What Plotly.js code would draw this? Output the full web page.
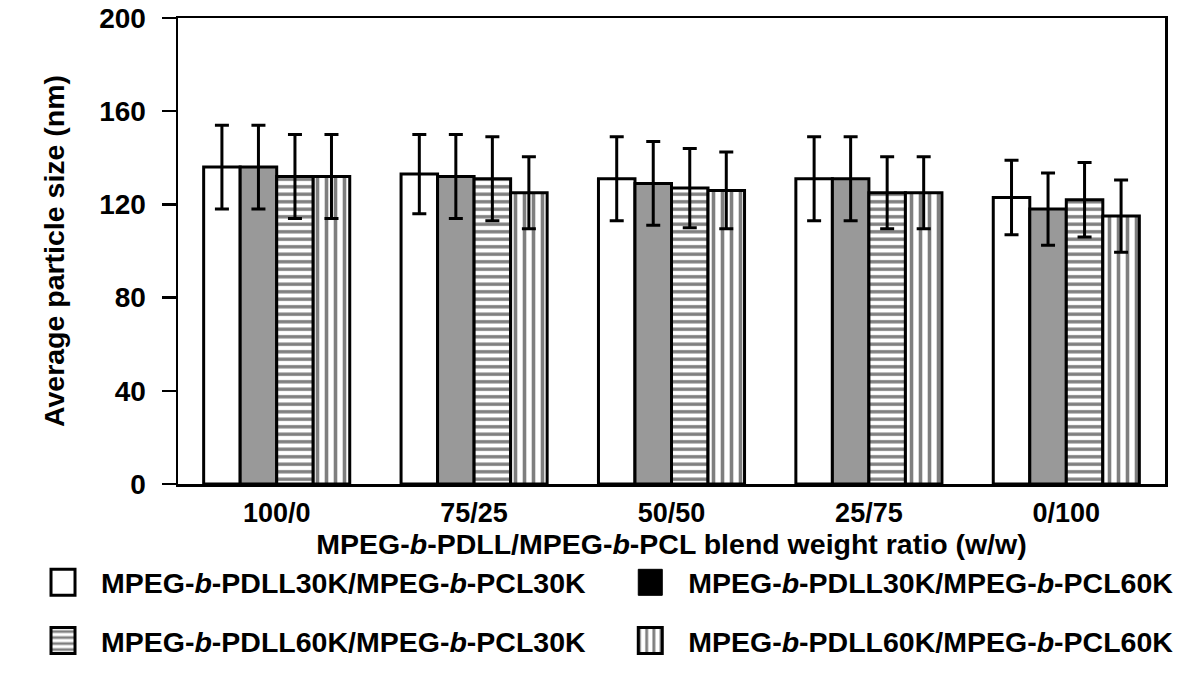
<!DOCTYPE html>
<html>
<head>
<meta charset="utf-8">
<script src="https://cdn.plot.ly/plotly-3.0.1.min.js"></script>
<style>
  body { margin: 0; background: #fff; }
  #chart { width: 1200px; height: 680px; }
</style>
</head>
<body>
<div id="chart"></div>
<script>
var ratios = ['100/0', '75/25', '50/50', '25/75', '0/100'];

var names = [
    'MPEG-<i>b</i>-PDLL30K/MPEG-<i>b</i>-PCL30K',
    'MPEG-<i>b</i>-PDLL30K/MPEG-<i>b</i>-PCL60K',
    'MPEG-<i>b</i>-PDLL60K/MPEG-<i>b</i>-PCL30K',
    'MPEG-<i>b</i>-PDLL60K/MPEG-<i>b</i>-PCL60K'
];

var size30k30k = [136, 133, 131, 131, 123];
var size30k60k = [136, 132, 129, 131, 118];
var size60k30k = [132, 131, 127, 125, 122];
var size60k60k = [132, 125, 126, 125, 115];

var err30k30k = [18, 17, 18, 18, 16];
var err30k60k = [18, 18, 18, 18, 15.5];
var err60k30k = [18, 18, 17, 15.5, 16];
var err60k60k = [18, 15.5, 16.5, 15.5, 15.5];

var fontFam = 'Liberation Sans, Arial, sans-serif';

function errBar(arr){
    return {type: 'data', array: arr, visible: true, color: '#000', thickness: 3, width: 7};
}

var outline = {color: '#000', width: 3};

var trace1 = {
    type: 'bar', x: ratios, y: size30k30k, name: names[0],
    error_y: errBar(err30k30k),
    marker: {color: '#fff', line: outline},
    legend: 'legend'
};
var trace2 = {
    type: 'bar', x: ratios, y: size30k60k, name: names[1],
    error_y: errBar(err30k60k),
    marker: {color: '#999999', line: outline},
    showlegend: false
};
var trace3 = {
    type: 'bar', x: ratios, y: size60k30k, name: names[2],
    error_y: errBar(err60k30k),
    marker: {color: '#fff', line: outline,
        pattern: {shape: '-', size: 7.5, solidity: 0.45, fgcolor: '#000', bgcolor: '#fff', fillmode: 'overlay'}},
    legend: 'legend3'
};
var trace4 = {
    type: 'bar', x: ratios, y: size60k60k, name: names[3],
    error_y: errBar(err60k60k),
    marker: {color: '#fff', line: outline,
        pattern: {shape: '|', size: 9, solidity: 0.4, fgcolor: '#000', bgcolor: '#fff', fillmode: 'overlay'}},
    legend: 'legend4'
};
// legend key for the grey series is drawn solid black in the original
var trace2key = {
    type: 'bar', x: [ratios[0]], y: [null], name: names[1],
    marker: {color: '#000', line: {color: '#000', width: 1}},
    xaxis: 'x2', yaxis: 'y2',
    legend: 'legend2'
};

var legFont = {family: fontFam, size: 28.5, color: '#000', weight: 'bold'};

function legendAt(xp, yp){
    return {
        orientation: 'h', x: xp, xanchor: 'left', y: yp, yanchor: 'middle',
        itemwidth: 66, font: legFont, bgcolor: 'rgba(0,0,0,0)'
    };
}

// legend rows/columns in paper units of the plot area
var col1 = -0.155, col2 = 0.44;
var row1 = -0.212, row2 = -0.337;

var layout = {
    width: 1200, height: 680,
    margin: {l: 178, r: 35, t: 18, b: 196},
    paper_bgcolor: '#fff', plot_bgcolor: '#fff',
    barmode: 'group', bargap: 0.26, bargroupgap: 0,
    font: {family: fontFam, color: '#000'},
    xaxis: {
        showline: true, linewidth: 2.5, linecolor: '#000', mirror: true,
        ticks: '', showgrid: false, ticklabelstandoff: 3,
        tickfont: {family: fontFam, size: 27, weight: 'bold'},
        title: {text: 'MPEG-<i>b</i>-PDLL/MPEG-<i>b</i>-PCL blend weight ratio (w/w)',
            font: {family: fontFam, size: 28.5, weight: 'bold'}, standoff: 4}
    },
    yaxis: {
        range: [0, 200], dtick: 40, tick0: 0,
        showline: true, linewidth: 2.5, linecolor: '#000', mirror: true,
        ticks: 'outside', ticklen: 14, tickwidth: 2.5, tickcolor: '#000',
        ticklabelstandoff: 10,
        showgrid: false, zeroline: false,
        tickfont: {family: fontFam, size: 28, weight: 'bold'},
        title: {text: 'Average particle size (nm)', standoff: 26,
            font: {family: fontFam, size: 28.5, weight: 'bold'}}
    },
    xaxis2: {overlaying: 'x', visible: false, anchor: 'y2'},
    yaxis2: {overlaying: 'y', visible: false, range: [0, 200], anchor: 'x2'},
    legend: legendAt(col1, row1),
    legend2: legendAt(col2, row1),
    legend3: legendAt(col1, row2),
    legend4: legendAt(col2, row2)
};

Plotly.newPlot('chart', [trace1, trace2, trace3, trace4, trace2key], layout,
    {displayModeBar: false, staticPlot: true}).then(function(gd){
    // bigger legend keys, as in the original figure
    gd.querySelectorAll('.legendpoints path').forEach(function(p){
        p.setAttribute('d', 'M12,13H-12V-13H12Z');
    });
});
</script>
</body>
</html>
